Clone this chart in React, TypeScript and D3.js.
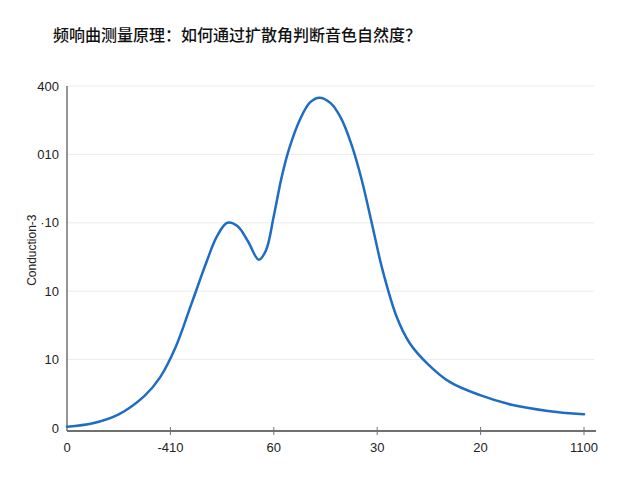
import React from "react";
import * as d3 from "d3";

const title = "频响曲测量原理：如何通过扩散角判断音色自然度？";
const yAxisTitle = "Conduction-3";
const xTickValues = [0, 20, 40, 60, 80, 100];
const xTickLabels = ["0", "-410", "60", "30", "20", "1100"];
const yTickValues = [0, 10, 20, 30, 40, 50];
const yTickLabels = ["0", "10", "10", "·10", "010", "400"];

const curveX = [0, 5, 10, 15, 18, 21, 24, 27, 29, 31, 33, 35, 37.1, 38.5, 40, 41.5, 43, 45, 47, 48.8, 51, 53, 55, 57, 59, 61, 63.8, 66.3, 69.6, 74.1, 79.9, 86, 93, 100];
const curveY = [0.2, 0.7, 2.0, 4.7, 7.4, 11.8, 18, 24.3, 28, 30, 29.5, 27.3, 24.6, 26.0, 31, 36.6, 40.9, 45, 47.6, 48.3, 47.5, 45.3, 41.5, 36.3, 29.8, 23.2, 16.2, 12.4, 9.5, 6.7, 4.8, 3.4, 2.5, 2.0];

export default function App() {
  const W = 640, H = 480;
  const left = 67, right = 584, top = 86, bottom = 428;
  const x = d3.scaleLinear().domain([0, 100]).range([left, right]);
  const y = d3.scaleLinear().domain([0, 50]).range([bottom, top]);
  const axisY = bottom + 3;
  const pts: [number, number][] = curveX.map((v, i) => [v, curveY[i]]);
  const line = d3.line<[number, number]>()
    .x(d => x(d[0]))
    .y(d => y(d[1]))
    .curve(d3.curveCatmullRom.alpha(0.5));
  const font = "'Liberation Sans', 'DejaVu Sans', sans-serif";
  return (
    <svg width={W} height={H} style={{ position: "absolute", left: 0, top: 0, background: "#fff" }}>
      <text x={53} y={41} fontFamily="'Noto Sans CJK SC', sans-serif" fontSize={16} fill="#111" fontWeight={500}>{title}</text>
      {yTickValues.slice(1).map(v => (
        <line key={v} x1={left} x2={594} y1={y(v)} y2={y(v)} stroke="#ececec" strokeWidth={1} />
      ))}
      <line x1={left} x2={left} y1={top} y2={axisY} stroke="#707070" strokeWidth={1.5} />
      <line x1={left} x2={596} y1={axisY} y2={axisY} stroke="#707070" strokeWidth={2} />
      {xTickValues.slice(1).map(v => (
        <line key={v} x1={x(v)} x2={x(v)} y1={axisY - 4} y2={axisY + 4} stroke="#707070" strokeWidth={1} />
      ))}
      {yTickValues.map((v, i) => (
        <text key={v} x={left - 8} y={y(v)} dy="0.35em" textAnchor="end" fontFamily={font} fontSize={13} fill="#222">{yTickLabels[i]}</text>
      ))}
      {xTickValues.map((v, i) => (
        <text key={v} x={x(v)} y={axisY + 16} dy="0.35em" textAnchor="middle" fontFamily={font} fontSize={13} fill="#222">{xTickLabels[i]}</text>
      ))}
      <text transform={`translate(36,${y(26)}) rotate(-90)`} textAnchor="middle" fontFamily={font} fontSize={12} fill="#222">{yAxisTitle}</text>
      <path d={line(pts) || ""} fill="none" stroke="#1f6cc4" strokeWidth={2.5} strokeLinecap="round" />
    </svg>
  );
}
